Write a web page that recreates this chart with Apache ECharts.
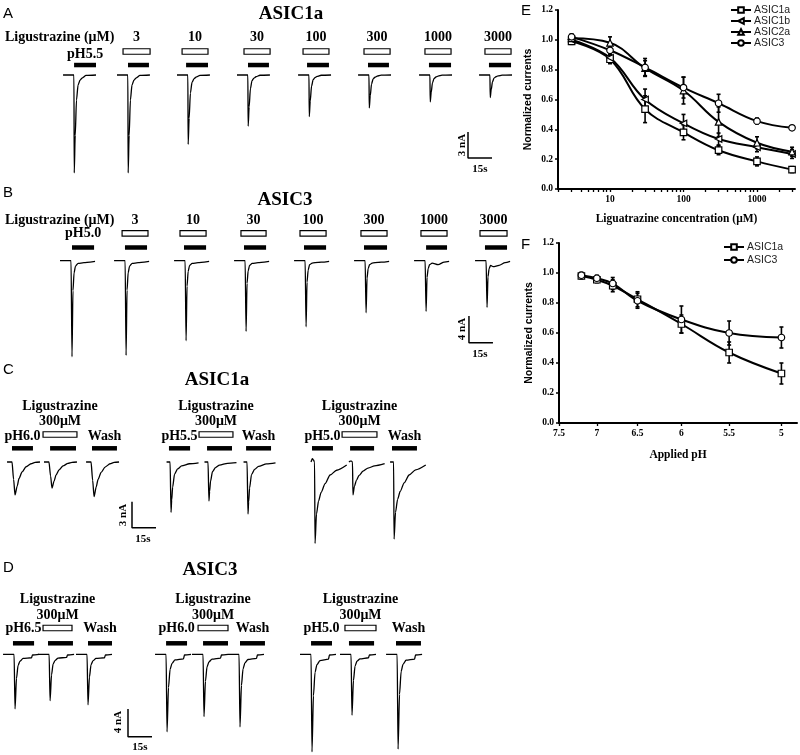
<!DOCTYPE html>
<html><head><meta charset="utf-8">
<script src="https://cdn.jsdelivr.net/npm/echarts@6/dist/echarts.min.js"></script>
<style>html,body{margin:0;padding:0;background:#fff}#chart{width:800px;height:755px}</style>
</head><body><div id="chart"></div>
<script>
// ======================= DATA =======================
// --- Panel A: ASIC1a, pH5.5 with Ligustrazine (time in s, current in nA) ---
const concLabels = ['3', '10', '30', '100', '300', '1000', '3000'];
const traceTimeA = [0, 6.8, 7.0, 7.6, 8.4, 9.4, 10.6, 11.9, 14.4, 20.6];
const tracesA = [
  [0, 0, -11.3, -7.0, -2.9, -1.15, -0.6, -0.35, -0.05, 0],
  [0, 0, -11.3, -7.0, -2.9, -1.15, -0.6, -0.35, -0.05, 0],
  [0, 0, -8.0, -5.0, -2.1, -0.85, -0.45, -0.25, -0.04, 0],
  [0, 0, -5.9, -3.7, -1.6, -0.65, -0.35, -0.2, -0.03, 0],
  [0, 0, -4.8, -3.0, -1.3, -0.55, -0.3, -0.17, -0.03, 0],
  [0, 0, -3.8, -2.4, -1.05, -0.45, -0.25, -0.14, -0.02, 0],
  [0, 0, -3.1, -2.0, -0.9, -0.4, -0.22, -0.12, -0.02, 0],
  [0, 0, -2.6, -1.7, -0.8, -0.35, -0.2, -0.1, -0.02, 0]
];
const phBarsA = [[46.3, 60.0], [80.0, 93.1], [116.3, 130.0], [155.0, 168.1], [191.9, 205.6], [230.0, 243.1], [268.1, 281.9], [305.6, 319.4]];
const drugBoxesA = [[76.9, 93.8], [113.8, 130.0], [152.5, 168.8], [189.4, 205.6], [227.5, 243.8], [265.6, 281.9], [303.1, 319.4]];
const phLabelsA = ['pH5.5', '', '', '', '', '', '', ''];

// --- Panel B: ASIC3, pH5.0 with Ligustrazine ---
const traceTimeB = [0, 6.9, 7.5, 8.1, 8.8, 9.7, 11.3, 15.0, 18.8, 21.9];
const tracesB = [
  [0, 0, -14.4, -4.5, -1.8, -0.8, -0.4, -0.3, -0.2, -0.1],
  [0, 0, -14.2, -4.4, -1.8, -0.8, -0.4, -0.3, -0.2, -0.1],
  [0, 0, -12.0, -3.8, -1.6, -0.7, -0.4, -0.3, -0.2, -0.1],
  [0, 0, -10.6, -3.4, -1.5, -0.7, -0.4, -0.3, -0.2, -0.1],
  [0, 0, -9.9, -3.2, -1.4, -0.6, -0.35, -0.25, -0.2, -0.1],
  [0, 0, -7.8, -2.6, -1.2, -0.6, -0.35, -0.25, -0.2, -0.1],
  [0, 0, -7.6, -2.5, -1.2, -0.6, -0.35, -0.6, -0.2, -0.1],
  [0, 0, -7.0, -2.4, -1.2, -0.7, -0.9, -0.7, -0.3, -0.1]
];
const phBarsB = [[45.0, 58.8], [78.1, 91.9], [115.0, 128.8], [152.5, 166.3], [190.0, 203.8], [227.5, 241.9], [266.3, 279.4], [303.1, 316.9]];
const drugBoxesB = [[76.3, 92.5], [112.5, 128.8], [150.6, 166.3], [187.5, 203.8], [225.6, 241.9], [263.1, 279.4], [300.0, 316.9]];
const phLabelsB = ['pH5.0', '', '', '', '', '', '', ''];

// --- Panel C: ASIC1a, 300 µM Ligustrazine at pH6.0 / 5.5 / 5.0 ---
const traceTimeC1 = [0, 3.1, 4.1, 5.0, 6.3, 7.5, 9.4, 11.9, 15.0, 17.5, 20.6];
const tracesC1 = [
  [0, 0, -2.0, -3.8, -2.8, -1.9, -1.15, -0.55, -0.2, -0.05, 0],
  [0, 0, -1.6, -3.0, -2.2, -1.5, -0.9, -0.45, -0.15, -0.04, 0],
  [0, 0, -2.1, -4.0, -2.9, -2.0, -1.2, -0.58, -0.2, -0.05, 0]
];
const traceTimeC2 = [0, 2.2, 2.8, 3.2, 3.8, 5.0, 6.9, 9.4, 14.4, 20.0];
const tracesC2 = [
  [0, 0, -5.8, -4.4, -2.9, -1.4, -0.8, -0.45, -0.2, -0.1],
  [0, 0, -4.5, -3.4, -2.2, -1.1, -0.65, -0.35, -0.15, -0.08],
  [0, 0, -6.0, -4.6, -3.0, -1.45, -0.85, -0.5, -0.22, -0.1]
];
const traceTimeC3 = [0, 0.8, 1.6, 2.2, 2.5, 3.4, 4.7, 6.3, 8.8, 11.9, 16.0, 22.3];
const tracesC3 = [
  [0, 0.4, 0.2, 0, -9.4, -6.0, -4.5, -3.5, -2.5, -1.5, -0.95, -0.35],
  [0, 0.1, 0.1, 0, -3.8, -2.8, -2.1, -1.55, -1.05, -0.7, -0.45, -0.2],
  [0, 0, 0, 0, -8.9, -5.8, -4.3, -3.4, -2.4, -1.5, -0.9, -0.35]
];
const phBarsC = [[7.5, 20.6], [31.3, 47.5], [57.5, 73.1], [105.6, 118.8], [129.4, 145.0], [153.8, 169.4], [195.0, 208.1], [218.8, 233.8], [245.0, 260.6]];
const drugBoxesC = [[26.9, 48.1], [124.4, 145.6], [213.8, 235.6]];
const phLabelsC = ['pH6.0', '', 'Wash', 'pH5.5', '', 'Wash', 'pH5.0', '', 'Wash'];
const drugLabelsC = ['Ligustrazine\n300μM', 'Ligustrazine\n300μM', 'Ligustrazine\n300μM'];

// --- Panel D: ASIC3, 300 µM Ligustrazine at pH6.5 / 6.0 / 5.0 ---
const traceTimeD = [0, 6.9, 7.5, 8.4, 9.4, 10.6, 12.5, 17.8, 18.4, 22.5];
const tracesD = [
  [0, 0, -7.9, -3.5, -1.6, -1.0, -0.6, -0.5, -0.1, 0],
  [0, 0, -6.7, -3.0, -1.4, -0.9, -0.55, -0.45, -0.1, 0],
  [0, 0, -7.3, -3.3, -1.5, -0.95, -0.6, -0.5, -0.1, 0],
  [0, 0, -11.2, -4.8, -2.2, -1.3, -0.8, -0.65, -0.1, 0],
  [0, 0, -9.0, -3.9, -1.8, -1.1, -0.7, -0.55, -0.1, 0],
  [0, 0, -10.5, -4.5, -2.1, -1.25, -0.75, -0.6, -0.1, 0],
  [0, 0, -14.1, -6.0, -2.6, -1.5, -0.9, -0.7, -0.1, 0],
  [0, 0, -8.8, -3.8, -1.7, -1.0, -0.65, -0.5, -0.1, 0],
  [0, 0, -13.7, -5.8, -2.5, -1.45, -0.85, -0.7, -0.1, 0]
];
const phBarsD = [[8.1, 21.3], [30.0, 45.6], [55.0, 70.0], [103.8, 116.9], [126.9, 142.5], [150.0, 165.6], [194.4, 207.5], [218.1, 233.8], [247.5, 263.1]];
const drugBoxesD = [[26.9, 45.0], [123.8, 142.5], [215.6, 235.0]];
const phLabelsD = ['pH6.5', '', 'Wash', 'pH6.0', '', 'Wash', 'pH5.0', '', 'Wash'];
const drugLabelsD = ['Ligustrazine\n300μM', 'Ligustrazine\n300μM', 'Ligustrazine\n300μM'];

// --- Panel E: concentration-response (normalized currents) ---
const concE = [3, 10, 30, 100, 300, 1000, 3000];
const asic1aE = [0.99, 0.87, 0.535, 0.38, 0.26, 0.185, 0.13];
const asic1aErrE = [0.02, 0.03, 0.09, 0.05, 0.03, 0.03, 0.02];
const asic1bE = [1.00, 0.88, 0.60, 0.44, 0.335, 0.28, 0.235];
const asic1bErrE = [0.02, 0.03, 0.07, 0.06, 0.04, 0.03, 0.03];
const asic2aE = [1.01, 0.98, 0.81, 0.66, 0.45, 0.31, 0.25];
const asic2aErrE = [0.02, 0.04, 0.05, 0.09, 0.10, 0.04, 0.03];
const asic3E = [1.02, 0.93, 0.815, 0.68, 0.575, 0.455, 0.41];
const asic3ErrE = [0.02, 0.03, 0.06, 0.07, 0.06, 0.02, 0.01];
const concTickLabelsE = [10, 100, 1000];

// --- Panel F: pH dependence (normalized currents) ---
const phF = [7.2, 7.0, 6.8, 6.5, 6.0, 5.5, 5.0];
const asic1aF = [0.98, 0.955, 0.915, 0.825, 0.66, 0.47, 0.33];
const asic1aErrF = [0.02, 0.02, 0.04, 0.05, 0.06, 0.07, 0.07];
const asic3F = [0.985, 0.965, 0.93, 0.815, 0.69, 0.60, 0.57];
const asic3ErrF = [0.02, 0.02, 0.04, 0.05, 0.09, 0.08, 0.07];
const phTickLabelsF = [7.5, 7, 6.5, 6, 5.5, 5];

// ======================= LAYOUT =======================
const SERIF = '"Liberation Serif","Times New Roman",serif';
const SANS = '"Liberation Sans",Arial,sans-serif';
const PX_PER_SEC = 1.6, TRACE_W = 520;
const tracePanels = [
  {top: 0, height: 185, baseline: 75, pxPerNA: 8.67},
  {top: 185, height: 175, baseline: 260.7, pxPerNA: 6.67},
  {top: 360, height: 195, baseline: 462, pxPerNA: 8.67},
  {top: 555, height: 200, baseline: 654.3, pxPerNA: 6.92}
];
const sweepStartA = [39.4, 73.1, 110.6, 148.1, 186.3, 223.8, 261.9, 299.4];
const sweepStartB = [37.5, 71.3, 108.8, 146.3, 183.8, 221.3, 258.8, 296.9];
const sweepStartC1 = [4.4, 27.5, 53.8];
const sweepStartC2 = [104.1, 127.8, 152.2];
const sweepStartC3 = [194.4, 218.1, 243.8];
const sweepStartD = [1.9, 23.8, 47.5, 96.9, 120.0, 142.5, 187.5, 212.5, 241.3];
// bar levels (nA above baseline) and label offsets (px)
const barLayout = [
  {ph: 1.15, drug: 2.71, phLab: 10.5, drugLab: 14},
  {ph: 1.98, drug: 4.11, phLab: 14.5, drugLab: 13.3},
  {ph: 1.58, drug: 3.17, phLab: 12.3, drugLab: 12.8},
  {ph: 1.59, drug: 3.8, phLab: 15.3, drugLab: 13}
];
const scaleBars = [
  {x: 292.5, yTop: -6.57, nA: 3, sec: 15},
  {x: 293.1, yTop: -8.29, nA: 4, sec: 15},
  {x: 82.5, yTop: -4.58, nA: 3, sec: 15},
  {x: 80.0, yTop: -7.9, nA: 4, sec: 15}
];
const E_RANGE = [1.96, 3290];
const F_RANGE = [4.86, 7.5];

// ======================= BUILD =======================
const series = [];
function addTrace(gi, time, vals, off) {
  series.push({
    type: 'line', xAxisIndex: gi, yAxisIndex: gi, silent: true, z: 3,
    data: time.map((t, k) => [t + off, vals[k]]),
    symbol: 'none', showSymbol: false, smooth: 0.25, smoothMonotone: 'x',
    lineStyle: {color: '#000', width: 1.3}
  });
}
tracesA.forEach((v, i) => addTrace(0, traceTimeA, v, sweepStartA[i]));
tracesB.forEach((v, i) => addTrace(1, traceTimeB, v, sweepStartB[i]));
tracesC1.forEach((v, i) => addTrace(2, traceTimeC1, v, sweepStartC1[i]));
tracesC2.forEach((v, i) => addTrace(2, traceTimeC2, v, sweepStartC2[i]));
tracesC3.forEach((v, i) => addTrace(2, traceTimeC3, v, sweepStartC3[i]));
tracesD.forEach((v, i) => addTrace(3, traceTimeD, v, sweepStartD[i]));

function addBars(gi, bars, level, h, filled, labels, labOff, fontSize) {
  series.push({
    type: 'custom', xAxisIndex: gi, yAxisIndex: gi, silent: true, z: 4,
    data: bars.map(b => [b[0], b[1], level]),
    encode: {x: [0, 1], y: 2},
    renderItem: function (params, api) {
      const s = api.coord([api.value(0), api.value(2)]);
      const e = api.coord([api.value(1), api.value(2)]);
      const children = [{
        type: 'rect',
        shape: {x: s[0], y: s[1] - h / 2, width: e[0] - s[0], height: h},
        style: filled ? {fill: '#000'} : {fill: '#fff', stroke: '#000', lineWidth: 1.2}
      }];
      const lab = labels ? labels[params.dataIndex] : '';
      if (lab) {
        const lines = lab.split('\n');
        lines.forEach((ln, k) => {
          children.push({
            type: 'text', x: (s[0] + e[0]) / 2,
            y: s[1] - labOff - (lines.length - 1 - k) * 15.5,
            style: {text: ln, fontFamily: SERIF, fontWeight: 'bold', fontSize: fontSize, fill: '#000', align: 'center', verticalAlign: 'middle'}
          });
        });
      }
      return {type: 'group', children: children};
    }
  });
}
addBars(0, phBarsA, barLayout[0].ph, 4.5, true, phLabelsA, barLayout[0].phLab, 14);
addBars(0, drugBoxesA, barLayout[0].drug, 5.5, false, concLabels, barLayout[0].drugLab, 14);
addBars(1, phBarsB, barLayout[1].ph, 4.5, true, phLabelsB, barLayout[1].phLab, 14);
addBars(1, drugBoxesB, barLayout[1].drug, 5.5, false, concLabels, barLayout[1].drugLab, 14);
addBars(2, phBarsC, barLayout[2].ph, 4.5, true, phLabelsC, barLayout[2].phLab, 14);
addBars(2, drugBoxesC, barLayout[2].drug, 5.5, false, drugLabelsC, barLayout[2].drugLab, 14);
addBars(3, phBarsD, barLayout[3].ph, 4.5, true, phLabelsD, barLayout[3].phLab, 14);
addBars(3, drugBoxesD, barLayout[3].drug, 5.5, false, drugLabelsD, barLayout[3].drugLab, 14);

scaleBars.forEach((sb, gi) => {
  series.push({
    type: 'line', xAxisIndex: gi, yAxisIndex: gi, silent: true,
    data: [[sb.x, sb.yTop], [sb.x, sb.yTop - sb.nA], [sb.x + sb.sec, sb.yTop - sb.nA]],
    symbol: 'none', lineStyle: {color: '#000', width: 1.5}
  });
});

// E / F
const LEFT_TRI = 'path://M0,5L10,0L10,10Z';
function addCurve(gi, name, xs, ys, errs, symbol) {
  series.push({
    type: 'custom', xAxisIndex: gi, yAxisIndex: gi, silent: true, z: 4,
    data: xs.map((x, i) => [x, ys[i] - errs[i], ys[i] + errs[i]]),
    encode: {x: 0, y: [1, 2]},
    renderItem: function (params, api) {
      const lo = api.coord([api.value(0), api.value(1)]);
      const hi = api.coord([api.value(0), api.value(2)]);
      const w = 2, st = {stroke: '#000', lineWidth: 1.6};
      return {type: 'group', children: [
        {type: 'line', shape: {x1: lo[0], y1: lo[1], x2: hi[0], y2: hi[1]}, style: st},
        {type: 'line', shape: {x1: lo[0] - w, y1: lo[1], x2: lo[0] + w, y2: lo[1]}, style: st},
        {type: 'line', shape: {x1: hi[0] - w, y1: hi[1], x2: hi[0] + w, y2: hi[1]}, style: st}
      ]};
    }
  });
  series.push({
    type: 'line', name: name, xAxisIndex: gi, yAxisIndex: gi, z: 6,
    data: xs.map((x, i) => [x, ys[i]]),
    symbol: symbol, symbolSize: 6.5, showSymbol: true, smooth: 0.4,
    itemStyle: {color: '#fff', borderColor: '#000', borderWidth: 1.2},
    lineStyle: {color: '#000', width: 2}
  });
}
const logE = concE.map(c => Math.log10(c));
addCurve(4, 'ASIC1a', logE, asic1aE, asic1aErrE, 'rect');
addCurve(4, 'ASIC1b', logE, asic1bE, asic1bErrE, LEFT_TRI);
addCurve(4, 'ASIC2a', logE, asic2aE, asic2aErrE, 'triangle');
addCurve(4, 'ASIC3', logE, asic3E, asic3ErrE, 'circle');
const logF = phF.map(p => Math.log10(p));
addCurve(5, 'ASIC1a', logF, asic1aF, asic1aErrF, 'rect');
addCurve(5, 'ASIC3', logF, asic3F, asic3ErrF, 'circle');

const minorE = [];
[1, 10, 100, 1000].forEach(d => { for (let m = 1; m <= 9; m++) { const v = m * d; if (v >= E_RANGE[0] && v <= E_RANGE[1]) minorE.push(Math.log10(v)); } });

const tickLabelStyle = {fontFamily: SERIF, fontWeight: 'bold', fontSize: 9.5, color: '#000'};
const axisLineStyle = {show: true, lineStyle: {color: '#000', width: 2}};
const yAxisEF = (gi) => ({
  gridIndex: gi, type: 'value', min: 0, max: 1.2, interval: 0.2,
  axisLine: axisLineStyle,
  axisTick: {show: true, inside: false, length: 3, lineStyle: {color: '#000', width: 1.5}},
  axisLabel: Object.assign({margin: 5, formatter: v => v.toFixed(1)}, tickLabelStyle),
  splitLine: {show: false},
  name: 'Normalized currents', nameLocation: 'middle', nameGap: 24,
  nameTextStyle: {fontFamily: SANS, fontWeight: 'bold', fontSize: 10.5, color: '#000'}
});

const xAxes = tracePanels.map((g, i) => ({gridIndex: i, type: 'value', min: 0, max: TRACE_W / PX_PER_SEC, show: false}));
xAxes.push({
  gridIndex: 4, type: 'value', min: Math.log10(E_RANGE[0]), max: Math.log10(E_RANGE[1]),
  axisLine: axisLineStyle,
  axisTick: {show: true, length: 3, lineStyle: {color: '#000', width: 1.3}, customValues: minorE},
  axisLabel: Object.assign({margin: 6, customValues: concTickLabelsE.map(v => Math.log10(v)),
    formatter: v => String(Math.round(Math.pow(10, v)))}, tickLabelStyle),
  splitLine: {show: false},
  name: 'Liguatrazine concentration (μM)', nameLocation: 'middle', nameGap: 24,
  nameTextStyle: {fontFamily: SERIF, fontWeight: 'bold', fontSize: 11.5, color: '#000'}
});
xAxes.push({
  gridIndex: 5, type: 'value', inverse: true, min: Math.log10(F_RANGE[0]), max: Math.log10(F_RANGE[1]),
  axisLine: axisLineStyle,
  axisTick: {show: true, length: 3, lineStyle: {color: '#000', width: 1.3}, customValues: phTickLabelsF.map(v => Math.log10(v))},
  axisLabel: Object.assign({margin: 6, customValues: phTickLabelsF.map(v => Math.log10(v)),
    formatter: v => String(Math.round(Math.pow(10, v) * 10) / 10)}, tickLabelStyle),
  splitLine: {show: false},
  name: 'Applied pH', nameLocation: 'middle', nameGap: 26,
  nameTextStyle: {fontFamily: SERIF, fontWeight: 'bold', fontSize: 11.5, color: '#000'}
});
const yAxes = tracePanels.map((g, i) => ({
  gridIndex: i, type: 'value', show: false,
  min: -(g.top + g.height - g.baseline) / g.pxPerNA, max: (g.baseline - g.top) / g.pxPerNA
}));
yAxes.push(yAxisEF(4));
yAxes.push(yAxisEF(5));

function txt(t, x, y, o) {
  o = o || {};
  return {type: 'text', x: x, y: y, rotation: o.rot || 0, silent: true,
    style: {text: t, fontFamily: o.family || SERIF, fontWeight: o.weight || 'bold', fontSize: o.size || 14,
      fill: '#000', align: o.align || 'center', verticalAlign: 'middle'}};
}
const letter = {family: SANS, weight: 'normal', size: 15, align: 'left'};
const graphics = [
  txt('A', 3, 14, letter), txt('B', 3, 193, letter), txt('C', 3, 370, letter), txt('D', 3, 568, letter),
  txt('E', 521, 11, letter), txt('F', 521, 245, letter),
  txt('ASIC1a', 291, 14, {size: 19}), txt('ASIC3', 285, 200, {size: 19}),
  txt('ASIC1a', 217, 380, {size: 19}), txt('ASIC3', 210, 570, {size: 19}),
  txt('Ligustrazine (μM)', 5, 37.5, {align: 'left'}), txt('Ligustrazine (μM)', 5, 220, {align: 'left'}),
  txt('3 nA', 462, 145, {size: 11, rot: Math.PI / 2}), txt('15s', 480, 169, {size: 11}),
  txt('4 nA', 462, 329, {size: 11, rot: Math.PI / 2}), txt('15s', 480, 354, {size: 11}),
  txt('3 nA', 123, 515, {size: 11, rot: Math.PI / 2}), txt('15s', 143, 539, {size: 11}),
  txt('4 nA', 118, 722, {size: 11, rot: Math.PI / 2}), txt('15s', 140, 747, {size: 11})
];

const legendText = {fontFamily: SANS, fontSize: 10.5, color: '#222', lineHeight: 11, padding: [0, 0, 0, -2]};
const option = {
  animation: false,
  backgroundColor: '#fff',
  grid: tracePanels.map(g => ({left: 0, top: g.top, width: TRACE_W, height: g.height}))
    .concat([{left: 558, top: 10, width: 237, height: 179}, {left: 559, top: 243, width: 238, height: 180}]),
  xAxis: xAxes,
  yAxis: yAxes,
  legend: [
    {data: ['ASIC1a', 'ASIC1b', 'ASIC2a', 'ASIC3'], orient: 'vertical', left: 730, top: 4.5, padding: 0,
      itemWidth: 20, itemHeight: 7, itemGap: 0, textStyle: legendText, selectedMode: false},
    {data: ['ASIC1a', 'ASIC3'], orient: 'vertical', left: 723, top: 241.5, padding: 0,
      itemWidth: 20, itemHeight: 7, itemGap: 2, textStyle: legendText, selectedMode: false}
  ],
  graphic: graphics,
  series: series
};
echarts.init(document.getElementById('chart'), null, {renderer: 'canvas'}).setOption(option);
</script>
</body></html>
